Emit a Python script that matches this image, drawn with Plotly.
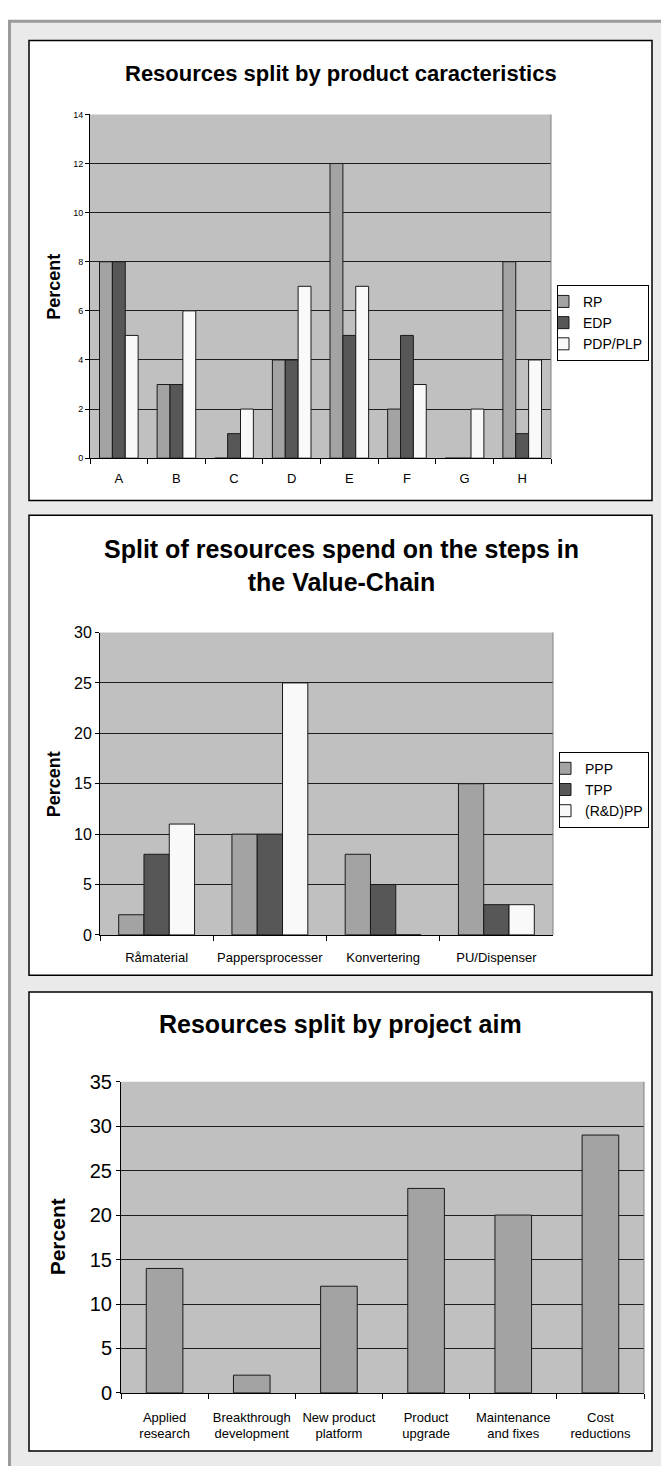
import plotly.graph_objects as go

W, H = 661, 1466
FONT = "Liberation Sans, Arial, sans-serif"

# Chart 1: resources split by product characteristics
cats1 = ["A", "B", "C", "D", "E", "F", "G", "H"]
rp = [8, 3, 0, 4, 12, 2, 0, 8]
edp = [8, 3, 1, 4, 5, 5, 0, 1]
pdp_plp = [5, 6, 2, 7, 7, 3, 2, 4]

# Chart 2: resources per value-chain step
cats2 = ["Råmaterial", "Pappersprocesser", "Konvertering", "PU/Dispenser"]
ppp = [2, 10, 8, 15]
tpp = [8, 10, 5, 3]
rdpp = [11, 25, 0, 3]

# Chart 3: resources per project aim
cats3 = ["Applied<br>research", "Breakthrough<br>development", "New product<br>platform",
         "Product<br>upgrade", "Maintenance<br>and fixes", "Cost<br>reductions"]
aim = [14, 2, 12, 23, 20, 29]

C_LIGHT = "#a3a3a3"
C_DARK = "#575757"
C_WHITE = "#f9f9f9"
OUTLINE = dict(color="#1a1a1a", width=1)


def fx(p):
    """page x pixel -> paper fraction"""
    return p / W


def fy(p):
    """page y pixel -> paper fraction"""
    return 1 - p / H


fig = go.Figure()

for name, vals, col in [("RP", rp, C_LIGHT), ("EDP", edp, C_DARK), ("PDP/PLP", pdp_plp, C_WHITE)]:
    fig.add_trace(go.Bar(x=cats1, y=vals, name=name, marker=dict(color=col, line=OUTLINE),
                         xaxis="x", yaxis="y", legend="legend"))

for name, vals, col in [("PPP", ppp, C_LIGHT), ("TPP", tpp, C_DARK), ("(R&D)PP", rdpp, C_WHITE)]:
    fig.add_trace(go.Bar(x=cats2, y=vals, name=name, marker=dict(color=col, line=OUTLINE),
                         xaxis="x2", yaxis="y2", legend="legend2"))

fig.add_trace(go.Bar(x=cats3, y=aim, name="Percent", width=0.42, showlegend=False,
                     marker=dict(color=C_LIGHT, line=OUTLINE), xaxis="x3", yaxis="y3"))


def xax(dom, size, anchor, standoff):
    return dict(domain=[fx(dom[0]), fx(dom[1])], type="category", tickson="boundaries",
                ticks="outside", ticklen=5, tickcolor="#000", showline=True, linecolor="#000",
                linewidth=1, showgrid=False, anchor=anchor, ticklabelstandoff=standoff,
                tickangle=0, tickfont=dict(size=size, color="#000", family=FONT), fixedrange=True)


def yax(dom, rng, dt, size, anchor):
    return dict(domain=[fy(dom[1]), fy(dom[0])], range=rng, dtick=dt, ticks="outside", ticklen=4,
                tickcolor="#000", showline=True, linecolor="#000", linewidth=1, showgrid=True,
                gridcolor="#1e1e1e", gridwidth=1, zeroline=False, anchor=anchor,
                tickfont=dict(size=size, color="#000", family=FONT), fixedrange=True)


# plot areas in page pixels: (left, right), (top, bottom)
P1 = ((90, 551), (105, 454))
P2 = ((100, 553), (631, 938))
P3 = ((121, 644), (1087, 1403))

shapes = [
    # outer grey panel
    dict(type="rect", xref="paper", yref="paper", x0=fx(9.5), x1=fx(700), y0=fy(10.5), y1=fy(1600),
         fillcolor="#eaeaea", line=dict(color="#9a9a9a", width=3), layer="below"),
]
for top, bottom in [(30, 497), (512, 979), (996, 1462)]:
    shapes.append(dict(type="rect", xref="paper", yref="paper", x0=fx(29), x1=fx(652),
                       y0=fy(bottom), y1=fy(top), fillcolor="#ffffff",
                       line=dict(color="#000", width=1.5), layer="below"))
for xr, yr in [("x", "y"), ("x2", "y2"), ("x3", "y3")]:
    # grey plot area fill and its right border
    shapes.append(dict(type="rect", xref=f"{xr} domain", yref=f"{yr} domain", x0=0, x1=1, y0=0, y1=1,
                       fillcolor="#c0c0c0", line=dict(width=0), layer="below"))
    shapes.append(dict(type="line", xref=f"{xr} domain", yref=f"{yr} domain", x0=1, x1=1, y0=0, y1=1,
                       line=dict(color="#808080", width=1)))

annotations = [
    dict(text="<b>Resources split by product caracteristics</b>", x=fx(341), y=fy(63),
         font=dict(size=22, family=FONT, color="#000")),
    dict(text="<b>Split of resources spend on the steps in<br>the Value-Chain</b>", x=fx(341), y=fy(563),
         font=dict(size=25, family=FONT, color="#000")),
    dict(text="<b>Resources split by project aim</b>", x=fx(340), y=fy(1028),
         font=dict(size=25, family=FONT, color="#000")),
    dict(text="<b>Percent</b>", x=fx(54), y=fy(280), textangle=-90, font=dict(size=18, family=FONT, color="#000")),
    dict(text="<b>Percent</b>", x=fx(54), y=fy(785), textangle=-90, font=dict(size=18, family=FONT, color="#000")),
    dict(text="<b>Percent</b>", x=fx(57), y=fy(1245), textangle=-90, font=dict(size=21, family=FONT, color="#000")),
]
for a in annotations:
    a.update(xref="paper", yref="paper", showarrow=False, xanchor="center", yanchor="middle")

fig.update_layout(
    width=W, height=H, margin=dict(l=0, r=0, t=0, b=0),
    paper_bgcolor="#ffffff", plot_bgcolor="rgba(0,0,0,0)",
    font=dict(family=FONT, color="#000"),
    barmode="group", bargap=0.33, bargroupgap=0,
    xaxis=xax(P1[0], 13, "y", 8), yaxis=yax(P1[1], [0, 14], 2, 9, "x"),
    xaxis2=xax(P2[0], 13, "y2", 10), yaxis2=yax(P2[1], [0, 30], 5, 16, "x2"),
    xaxis3=xax(P3[0], 13, "y3", 12), yaxis3=yax(P3[1], [0, 35], 5, 20, "x3"),
    legend=dict(x=fx(557), y=fy(278), xanchor="left", yanchor="top", bgcolor="#fff",
                bordercolor="#000", borderwidth=1, font=dict(size=14, family=FONT),
                tracegroupgap=0, itemwidth=30, indentation=-15),
    legend2=dict(x=fx(559), y=fy(752), xanchor="left", yanchor="top", bgcolor="#fff",
                 bordercolor="#000", borderwidth=1, font=dict(size=14, family=FONT),
                 tracegroupgap=0, itemwidth=30, indentation=-15),
    shapes=shapes, annotations=annotations,
)

fig.write_html("out.html", config={"displayModeBar": False})
